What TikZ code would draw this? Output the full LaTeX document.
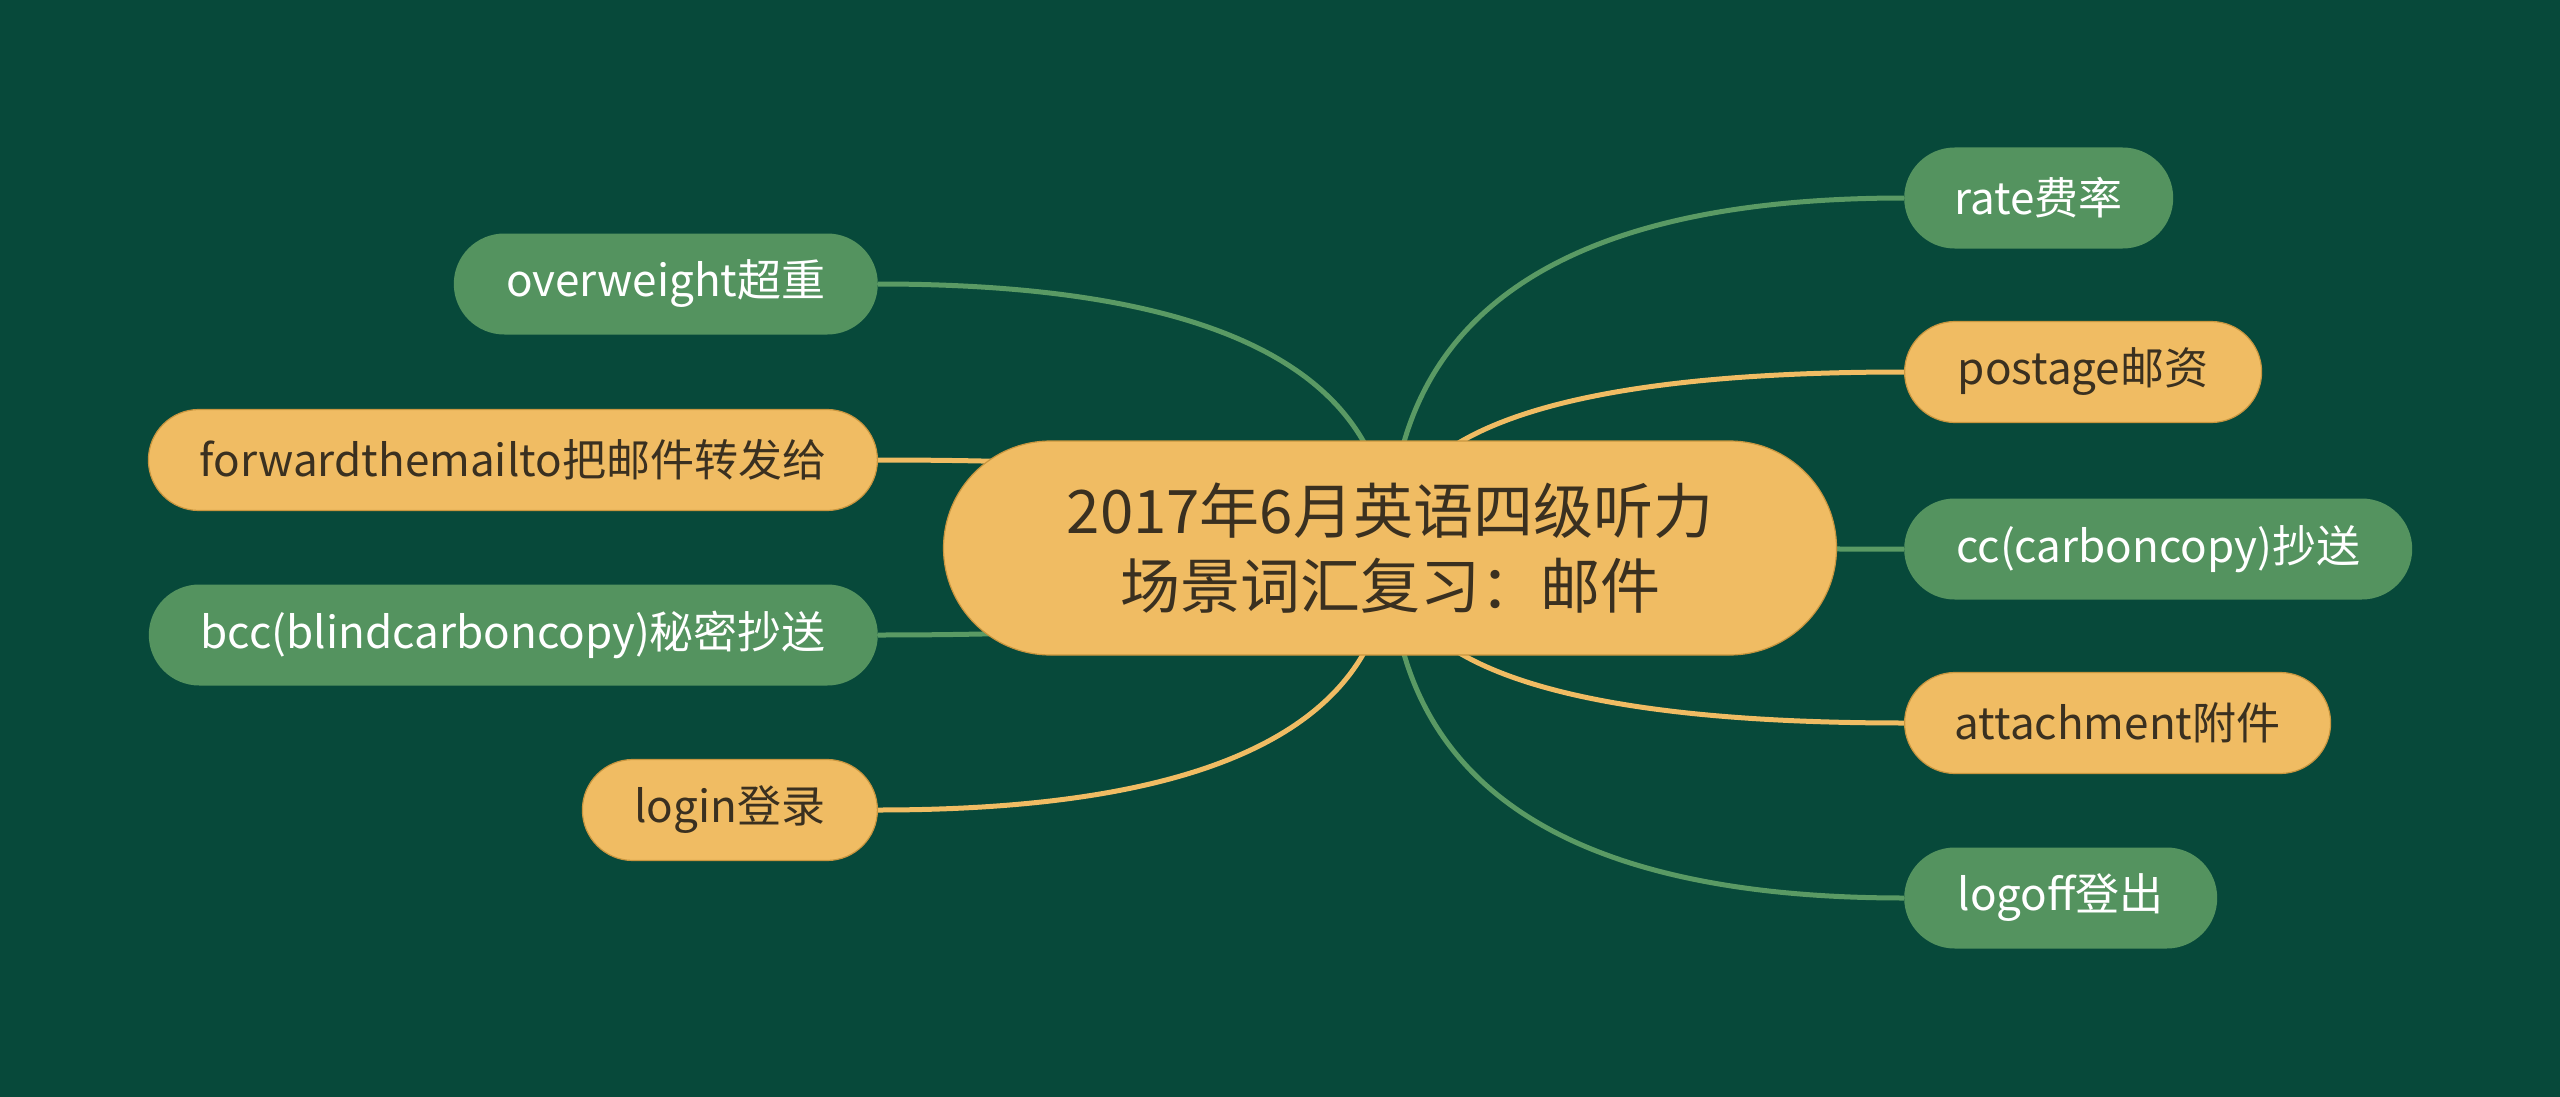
\documentclass[tikz,border=0pt]{standalone}
\usepackage{fontspec}
\setmainfont{Noto Sans CJK SC}
\usetikzlibrary{calc}
\definecolor{bg}{HTML}{07493A}
\definecolor{gfill}{HTML}{54935F}
\definecolor{gline}{HTML}{5A9A64}
\definecolor{ofill}{HTML}{F0BC63}
\definecolor{odraw}{HTML}{C9963F}
\definecolor{dtext}{HTML}{3A3020}
\pgfdeclarelayer{bglayer}
\pgfdeclarelayer{edgelayer}
\pgfsetlayers{bglayer,edgelayer,main}
\tikzset{
  leaf/.style={rectangle, rounded corners=50.5pt, minimum height=101pt, inner sep=0pt,
    font=\fontsize{44}{52}\selectfont},
  gleaf/.style={leaf, fill=gfill, text=white},
  oleaf/.style={leaf, fill=ofill, draw=odraw, line width=1.2pt, text=dtext},
  rootbox/.style={rectangle, rounded corners=107pt, minimum width=893pt, minimum height=214pt,
    fill=ofill, draw=odraw, line width=1.2pt, text=dtext, align=center,
    font=\fontsize{60}{75}\selectfont},
  gcon/.style={draw=gline, line width=5pt},
  ocon/.style={draw=ofill, line width=5pt}
}
\begin{document}
\begin{tikzpicture}[x=1pt,y=-1pt]
\begin{pgfonlayer}{bglayer}
\fill[bg] (0,0) rectangle (2560,1097);
\end{pgfonlayer}
\useasboundingbox (0,0) rectangle (2560,1097);

\node[rootbox] (root) at (1390,548) {2017年6月英语四级听力\\场景词汇复习：邮件};

\node[gleaf, minimum width=424pt, anchor=east] (ow) at (878,284) {overweight超重};
\node[oleaf, minimum width=729pt, anchor=east] (fw) at (878,460) {forwardthemailto把邮件转发给};
\node[gleaf, minimum width=729pt, anchor=east] (bcc) at (878,635) {bcc(blindcarboncopy)秘密抄送};
\node[oleaf, minimum width=295pt, anchor=east] (login) at (878,810) {login登录};

\node[gleaf, minimum width=269pt, anchor=west] (rate) at (1904,198) {rate费率};
\node[oleaf, minimum width=357pt, anchor=west] (post) at (1904,372) {postage邮资};
\node[gleaf, minimum width=508pt, anchor=west] (cc) at (1904,549) {cc(carboncopy)抄送};
\node[oleaf, minimum width=426pt, anchor=west] (att) at (1904,723) {attachment附件};
\node[gleaf, minimum width=313pt, anchor=west] (logoff) at (1904,898) {logoff登出};

\begin{pgfonlayer}{edgelayer}
\foreach \n/\s in {ow/gcon, fw/ocon, bcc/gcon, login/ocon} {
  \coordinate (k) at (root.center |- \n.east);
  \draw[\s] (root.center) .. controls ($(root.center)!0.6667!(k)$) and ($(\n.east)!0.6667!(k)$) .. (\n.east);
}
\foreach \n/\s in {rate/gcon, post/ocon, cc/gcon, att/ocon, logoff/gcon} {
  \coordinate (k) at (root.center |- \n.west);
  \draw[\s] (root.center) .. controls ($(root.center)!0.6667!(k)$) and ($(\n.west)!0.6667!(k)$) .. (\n.west);
}
\end{pgfonlayer}
\end{tikzpicture}
\end{document}
